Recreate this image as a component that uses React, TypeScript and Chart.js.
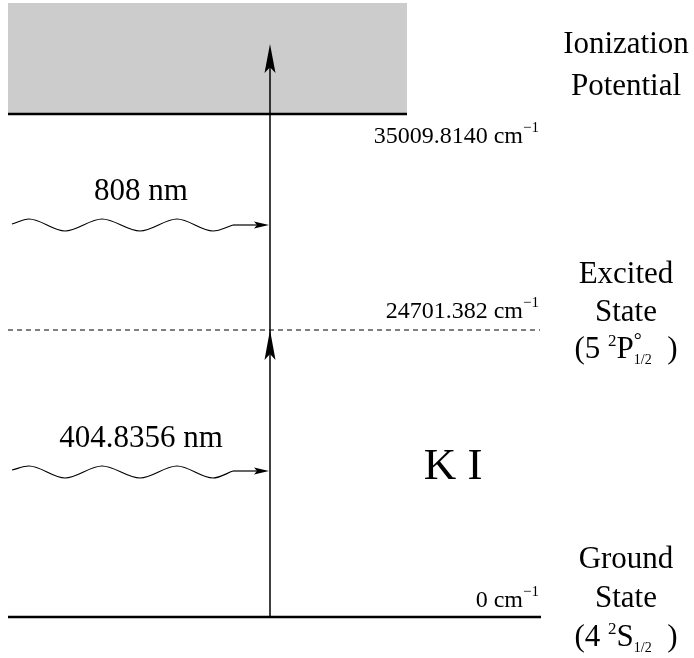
import React, { useEffect, useRef } from 'react';
import { Chart, registerables } from 'chart.js';

Chart.register(...registerables);

const W = 694;
const H = 658;
const FONT = '"Liberation Serif", "DejaVu Serif", serif';

// ---- Energy levels of K I (schematic: not to scale) ----
const levelNames = ['Ground', 'Excited', 'Ionization'];
const levelEnergies = ['0', '24701.382', '35009.8140'];
const levelStateLines = [
  ['Ground', 'State'],
  ['Excited', 'State'],
  ['Ionization', 'Potential'],
];
// diagram height of each level (reversed y axis, schematic units)
const levelY = [617, 330, 114];
const levelXEnd = [541, 540, 407];
const levelXStart = 8;
const continuumTop = 3;

// ---- Laser excitation ----
const laserLabels = ['404.8356 nm', '808 nm'];
const transitionX = 270;
const transitionTop = 44;
const waveX = [12, 29, 65, 102, 140, 177, 213, 233];
const wave404Y = [470, 466, 478, 466, 478, 466, 478, 471];
const wave808Y = [224, 219, 231, 219, 231, 219, 231, 225];

const species = 'K I';

type Run = { t: string; size: number; dy?: number; noAdv?: boolean; w?: number };

function rich(ctx: CanvasRenderingContext2D, runs: Run[], x: number, base: number, align: 'left' | 'center' | 'right') {
  let total = 0;
  for (const r of runs) {
    ctx.font = `${r.size}px ${FONT}`;
    r.w = ctx.measureText(r.t).width;
    if (!r.noAdv) total += r.w;
  }
  let cx = align === 'center' ? x - total / 2 : align === 'right' ? x - total : x;
  ctx.textAlign = 'left';
  ctx.textBaseline = 'alphabetic';
  for (const r of runs) {
    ctx.font = `${r.size}px ${FONT}`;
    ctx.fillText(r.t, cx, base + (r.dy || 0));
    if (!r.noAdv) cx += r.w as number;
  }
}

function stealth(ctx: CanvasRenderingContext2D, tx: number, ty: number, dx: number, dy: number, len: number, half: number) {
  const bx = tx - dx * len, by = ty - dy * len;
  const nx = tx - dx * len * 0.8, ny = ty - dy * len * 0.8;
  const px = -dy, py = dx;
  ctx.beginPath();
  ctx.moveTo(tx, ty);
  ctx.lineTo(bx + px * half, by + py * half);
  ctx.lineTo(nx, ny);
  ctx.lineTo(bx - px * half, by - py * half);
  ctx.closePath();
  ctx.fill();
}

const overlay = {
  id: 'overlay',
  afterDatasetsDraw(chart: any) {
    const { ctx } = chart;
    const xs = chart.scales.x, ys = chart.scales.y;
    const X = (v: number) => xs.getPixelForValue(v);
    const Y = (v: number) => ys.getPixelForValue(v);
    ctx.save();
    ctx.fillStyle = '#000';

    // arrowheads on the transition line
    stealth(ctx, X(transitionX), Y(levelY[1]), 0, -1, 30, 5.5);
    stealth(ctx, X(transitionX), Y(transitionTop), 0, -1, 29, 5.5);
    // arrowheads of the photons
    stealth(ctx, X(transitionX) - 1, Y(wave404Y[wave404Y.length - 1]), 1, 0, 15, 3.5);
    stealth(ctx, X(transitionX) - 1, Y(wave808Y[wave808Y.length - 1]), 1, 0, 15, 3.5);

    // energy labels
    const eOff = [-10, -12, 29];
    const eRight = 539;
    levelEnergies.forEach((e, i) => {
      rich(ctx, [
        { t: `${e} cm`, size: 24 },
        { t: '\u22121', size: 15, dy: -11 },
      ], X(eRight), Y(levelY[i] + eOff[i]), 'right');
    });

    // state labels
    const cx = X(626);
    const big = 31;
    const stateBase = [[568, 607], [283, 321], [53, 95]];
    levelStateLines.forEach((lines, i) => {
      lines.forEach((t, j) => rich(ctx, [{ t, size: big }], cx, Y(stateBase[i][j]), 'center'));
    });
    rich(ctx, [
      { t: '(4 ', size: big },
      { t: '2', size: 17, dy: -12 },
      { t: 'S', size: big },
      { t: '1/2', size: 14, dy: 6 },
      { t: '  )', size: big },
    ], cx, Y(646), 'center');
    rich(ctx, [
      { t: '(5 ', size: big },
      { t: '2', size: 17, dy: -12 },
      { t: 'P', size: big },
      { t: '\u00b0', size: 20, dy: -11, noAdv: true },
      { t: '1/2', size: 14, dy: 6 },
      { t: '  )', size: big },
    ], cx, Y(358), 'center');

    // photon wavelengths
    rich(ctx, [{ t: laserLabels[1], size: big }], X(141), Y(200), 'center');
    rich(ctx, [{ t: laserLabels[0], size: big }], X(141), Y(447), 'center');

    // species
    rich(ctx, [{ t: species, size: 45 }], X(453), Y(479), 'center');
    ctx.restore();
  },
};

export default function App() {
  const ref = useRef<HTMLCanvasElement | null>(null);
  useEffect(() => {
    if (!ref.current) return;
    const line = (data: { x: number; y: number }[], extra: any = {}) => ({
      data,
      showLine: true,
      pointRadius: 0,
      borderColor: '#000',
      borderWidth: 1.3,
      fill: false,
      order: 0,
      ...extra,
    });
    const pts = (xsArr: number[], ysArr: number[]) => xsArr.map((x, i) => ({ x, y: ysArr[i] }));
    const chart = new Chart(ref.current, {
      type: 'scatter',
      data: {
        datasets: [
          // ionization continuum
          line([{ x: levelXStart, y: levelY[2] }, { x: levelXEnd[2], y: levelY[2] }], {
            borderWidth: 2.6,
            fill: { value: continuumTop },
            backgroundColor: '#cccccc',
            order: 10,
          }),
          // ground level
          line([{ x: levelXStart, y: levelY[0] }, { x: levelXEnd[0], y: levelY[0] }], { borderWidth: 2.6 }),
          // excited level
          line([{ x: levelXStart, y: levelY[1] }, { x: levelXEnd[1], y: levelY[1] }], { borderWidth: 1.1, borderDash: [5, 4] }),
          // transition
          line([{ x: transitionX, y: levelY[0] }, { x: transitionX, y: transitionTop + 10 }], { borderWidth: 1.5 }),
          // photons
          line(pts(waveX, wave404Y), { cubicInterpolationMode: 'monotone', borderWidth: 1.2 }),
          line([{ x: waveX[waveX.length - 1], y: wave404Y[wave404Y.length - 1] }, { x: transitionX - 8, y: wave404Y[wave404Y.length - 1] }], { borderWidth: 1.2 }),
          line(pts(waveX, wave808Y), { cubicInterpolationMode: 'monotone', borderWidth: 1.2 }),
          line([{ x: waveX[waveX.length - 1], y: wave808Y[wave808Y.length - 1] }, { x: transitionX - 8, y: wave808Y[wave808Y.length - 1] }], { borderWidth: 1.2 }),
        ],
      },
      options: {
        responsive: false,
        animation: false,
        devicePixelRatio: 1,
        layout: { padding: 0 },
        plugins: {
          legend: { display: false },
          tooltip: { enabled: false },
          filler: { drawTime: 'beforeDatasetsDraw' },
        },
        scales: {
          x: { type: 'linear', min: 0, max: W, display: false },
          y: { type: 'linear', min: 0, max: H, reverse: true, display: false },
        },
      },
      plugins: [overlay],
    });
    return () => chart.destroy();
  }, []);
  return (
    <div style={{ position: 'fixed', left: 0, top: 0, width: W, height: H, background: '#fff' }}>
      <canvas ref={ref} width={W} height={H} style={{ width: W, height: H, display: 'block' }} />
    </div>
  );
}
